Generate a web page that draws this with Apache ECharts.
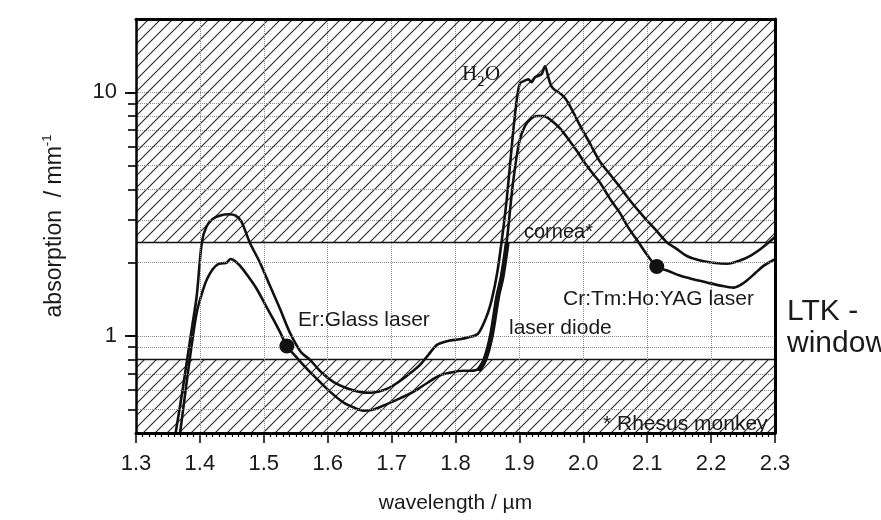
<!DOCTYPE html>
<html>
<head>
<meta charset="utf-8">
<script src="https://cdn.jsdelivr.net/npm/echarts@6/dist/echarts.min.js"></script>
<style>
html, body { margin: 0; padding: 0; background: #fff; }
#chart { width: 881px; height: 520px; }
</style>
</head>
<body>
<div id="chart"></div>
<script>
// absorption spectra (wavelength in um, absorption in 1/mm)
var waterWl = [1.362, 1.372, 1.380, 1.388, 1.395, 1.403, 1.410, 1.420, 1.432, 1.445, 1.456, 1.465, 1.478, 1.494, 1.510,
    1.525, 1.541, 1.558, 1.572, 1.590, 1.610, 1.630, 1.650, 1.668, 1.688, 1.708, 1.728, 1.744, 1.758, 1.771,
    1.788, 1.807, 1.822, 1.835, 1.849, 1.857, 1.865, 1.872, 1.880, 1.890, 1.897, 1.901, 1.906, 1.914, 1.919,
    1.924, 1.930, 1.935, 1.940, 1.945, 1.950, 1.956, 1.964, 1.971, 1.979, 1.995, 2.010, 2.026, 2.042, 2.057,
    2.075, 2.094, 2.112, 2.131, 2.146, 2.162, 2.180, 2.203, 2.225, 2.245, 2.262, 2.277, 2.290, 2.300];
var waterAbs = [0.40, 0.58, 0.80, 1.10, 1.46, 2.42, 2.80, 3.02, 3.12, 3.16, 3.12, 2.95, 2.42, 2.00, 1.60,
    1.30, 1.03, 0.86, 0.80, 0.71, 0.645, 0.61, 0.59, 0.585, 0.60, 0.64, 0.70, 0.76, 0.84, 0.92,
    0.955, 0.97, 0.99, 1.02, 1.21, 1.42, 1.80, 2.42, 3.60, 6.80, 9.80, 10.9, 11.1, 11.3, 11.0,
    11.5, 11.7, 11.9, 12.8, 11.6, 10.6, 10.2, 9.9, 9.5, 8.8, 7.3, 6.2, 5.2, 4.6, 4.1,
    3.55, 3.10, 2.75, 2.42, 2.28, 2.13, 2.05, 2.00, 1.98, 2.04, 2.14, 2.27, 2.42, 2.55];

var corneaWl = [1.369, 1.377, 1.384, 1.395, 1.405, 1.411, 1.420, 1.428, 1.436, 1.442, 1.448, 1.455, 1.463, 1.476, 1.489,
    1.502, 1.515, 1.526, 1.536, 1.549, 1.562, 1.583, 1.604, 1.624, 1.640, 1.656, 1.672, 1.687, 1.713, 1.734,
    1.755, 1.776, 1.795, 1.812, 1.825, 1.835, 1.845, 1.855, 1.865, 1.872, 1.880, 1.890, 1.900, 1.909, 1.918,
    1.927, 1.936, 1.943, 1.952, 1.964, 1.977, 1.990, 2.003, 2.016, 2.026, 2.042, 2.057, 2.070, 2.083, 2.100,
    2.115, 2.135, 2.151, 2.172, 2.193, 2.215, 2.235, 2.246, 2.256, 2.268, 2.282, 2.300];
var corneaAbs = [0.40, 0.58, 0.80, 1.25, 1.55, 1.71, 1.88, 1.97, 1.99, 2.00, 2.07, 2.03, 1.94, 1.75, 1.56,
    1.35, 1.17, 1.03, 0.91, 0.83, 0.76, 0.667, 0.59, 0.535, 0.51, 0.494, 0.50, 0.518, 0.555, 0.59,
    0.64, 0.69, 0.71, 0.72, 0.72, 0.73, 0.80, 1.00, 1.45, 1.75, 2.42, 4.25, 6.30, 7.30, 7.80,
    8.00, 8.00, 7.90, 7.60, 7.10, 6.40, 5.75, 5.10, 4.60, 4.27, 3.65, 3.21, 2.80, 2.50, 2.15,
    1.93, 1.84, 1.77, 1.71, 1.66, 1.61, 1.58, 1.62, 1.69, 1.80, 1.94, 2.07];

// bold "laser diode" stretch
var diodeWl = [1.836, 1.846, 1.856, 1.866, 1.873, 1.881];
var diodeAbs = [0.72, 0.80, 1.00, 1.45, 1.75, 2.42];

// laser lines marked with dots (Er:Glass, Cr:Tm:Ho:YAG)
var laserWl = [1.536, 2.115];
var laserAbs = [0.91, 1.93];

// LTK window limits
var windowLow = 0.8;
var windowHigh = 2.42;

var xMin = 1.3, xMax = 2.3;
var yMin = 0.4, yMax = 20;
var yGridValues = [0.5, 0.6, 0.7, 0.8, 0.9, 1, 2, 3, 4, 5, 6, 7, 8, 9, 10];
var yLabelValues = [1, 10];

var FONT = '"Liberation Sans", Arial, sans-serif';

function pairs(xs, ys) {
    return xs.map(function (x, i) { return [x, ys[i]]; });
}

// diagonal hatch tile
function hatchTile() {
    var s = 12;
    var c = document.createElement('canvas');
    c.width = s;
    c.height = s;
    var g = c.getContext('2d');
    g.strokeStyle = '#262626';
    g.lineWidth = 1.1;
    g.beginPath();
    g.moveTo(0, s); g.lineTo(s, 0);
    g.moveTo(-s / 2, s / 2); g.lineTo(s / 2, -s / 2);
    g.moveTo(s / 2, s * 1.5); g.lineTo(s * 1.5, s / 2);
    g.stroke();
    return c;
}

var chart = echarts.init(document.getElementById('chart'));

var gridLines = yGridValues.map(function (v) {
    return { yAxis: v, lineStyle: { type: 'dotted', color: '#8a8a8a', width: 1 } };
});
gridLines.push({ yAxis: windowLow, lineStyle: { type: 'solid', color: '#111', width: 1.3 } });
gridLines.push({ yAxis: windowHigh, lineStyle: { type: 'solid', color: '#111', width: 1.3 } });

var curveStyle = { color: '#111', width: 2.6 };

option = {
    animation: false,
    backgroundColor: '#fff',
    grid: { left: 136, right: 106, top: 19, bottom: 87, containLabel: false },
    xAxis: [{
        type: 'value',
        min: xMin,
        max: xMax,
        interval: 0.1,
        position: 'bottom',
        z: 10,
        axisLine: { lineStyle: { color: '#000', width: 3 } },
        axisTick: { length: 10, lineStyle: { color: '#000', width: 1.5 } },
        minorTick: { show: true, splitNumber: 10, length: 4, lineStyle: { color: '#000', width: 1.2 } },
        splitLine: { show: true, lineStyle: { type: 'dotted', color: '#8a8a8a', width: 1 } },
        axisLabel: {
            fontSize: 22, fontFamily: FONT, color: '#1a1a1a', margin: 20,
            formatter: function (v) { return v.toFixed(1); }
        },
        name: 'wavelength / µm',
        nameLocation: 'middle',
        nameGap: 60,
        nameTextStyle: { fontSize: 21, fontFamily: FONT, color: '#1a1a1a' }
    }, {
        type: 'value',
        min: xMin,
        max: xMax,
        position: 'top',
        z: 10,
        axisLine: { lineStyle: { color: '#000', width: 3 } },
        axisTick: { show: false },
        axisLabel: { show: false },
        splitLine: { show: false }
    }],
    yAxis: [{
        type: 'log',
        logBase: 10,
        min: yMin,
        max: yMax,
        position: 'left',
        z: 10,
        axisLine: { show: true, lineStyle: { color: '#000', width: 2.5 } },
        axisTick: { show: true, customValues: yGridValues, length: 8, lineStyle: { color: '#000', width: 1.6 } },
        axisLabel: { show: false },
        splitLine: { show: false },
        name: 'absorption  / mm{sup|-1}',
        nameLocation: 'middle',
        nameGap: 67,
        nameTextStyle: {
            fontSize: 23, fontFamily: FONT, color: '#1a1a1a',
            rich: { sup: { fontSize: 13, fontFamily: FONT, color: '#1a1a1a', verticalAlign: 'top', lineHeight: 28 } }
        }
    }, {
        type: 'log',
        logBase: 10,
        min: yMin,
        max: yMax,
        position: 'left',
        z: 10,
        axisLine: { show: false },
        axisTick: { show: true, customValues: yLabelValues, length: 11, lineStyle: { color: '#000', width: 1.8 } },
        axisLabel: {
            customValues: yLabelValues,
            fontSize: 22, fontFamily: FONT, color: '#1a1a1a', margin: 19,
            formatter: function (v) { return (v === 1 || v === 10) ? String(v) : ''; }
        },
        splitLine: { show: false }
    }, {
        type: 'log',
        logBase: 10,
        min: yMin,
        max: yMax,
        position: 'right',
        z: 10,
        axisLine: { show: true, lineStyle: { color: '#000', width: 3 } },
        axisTick: { show: false },
        axisLabel: { show: false },
        splitLine: { show: false }
    }],
    series: [{
        name: 'background',
        type: 'line',
        data: [],
        silent: true,
        markArea: {
            silent: true,
            itemStyle: { color: { image: hatchTile(), repeat: 'repeat' }, opacity: 1 },
            data: [
                [{ yAxis: windowHigh }, { yAxis: yMax }],
                [{ yAxis: yMin }, { yAxis: windowLow }]
            ]
        },
        markLine: {
            silent: true,
            symbol: ['none', 'none'],
            label: { show: false },
            data: gridLines
        }
    }, {
        name: 'H2O',
        type: 'line',
        data: pairs(waterWl, waterAbs),
        showSymbol: false,
        smooth: 0.3,
        lineStyle: curveStyle,
        z: 4
    }, {
        name: 'cornea',
        type: 'line',
        data: pairs(corneaWl, corneaAbs),
        showSymbol: false,
        smooth: 0.3,
        lineStyle: curveStyle,
        z: 4
    }, {
        name: 'laser diode',
        type: 'line',
        data: pairs(diodeWl, diodeAbs),
        showSymbol: false,
        smooth: 0.3,
        lineStyle: { color: '#111', width: 5 },
        z: 5
    }, {
        name: 'lasers',
        type: 'scatter',
        data: pairs(laserWl, laserAbs),
        symbolSize: 15,
        itemStyle: { color: '#111', opacity: 1 },
        z: 6
    }],
    graphic: [
        { type: 'text', x: 298, y: 320, z: 20, style: { text: 'Er:Glass laser', font: '21px ' + FONT, fill: '#1a1a1a', verticalAlign: 'middle' } },
        { type: 'text', x: 509, y: 328, z: 20, style: { text: 'laser diode', font: '21px ' + FONT, fill: '#1a1a1a', verticalAlign: 'middle' } },
        { type: 'text', x: 563, y: 299, z: 20, style: { text: 'Cr:Tm:Ho:YAG laser', font: '21px ' + FONT, fill: '#1a1a1a', verticalAlign: 'middle' } },
        { type: 'text', x: 524, y: 232, z: 20, style: { text: 'cornea*', font: '20px ' + FONT, fill: '#1a1a1a', verticalAlign: 'middle' } },
        { type: 'text', x: 603, y: 424, z: 20, style: { text: '* Rhesus monkey', font: '21px ' + FONT, fill: '#1a1a1a', verticalAlign: 'middle' } },
        { type: 'text', x: 462, y: 74, z: 20, style: { text: 'H', font: '21px "Liberation Serif", serif', fill: '#1a1a1a', verticalAlign: 'middle' } },
        { type: 'text', x: 477, y: 82, z: 20, style: { text: '2', font: '15px "Liberation Serif", serif', fill: '#1a1a1a', verticalAlign: 'middle' } },
        { type: 'text', x: 485, y: 74, z: 20, style: { text: 'O', font: '21px "Liberation Serif", serif', fill: '#1a1a1a', verticalAlign: 'middle' } },
        { type: 'text', x: 787, y: 312, z: 20, style: { text: 'LTK -', font: '30px ' + FONT, fill: '#1a1a1a', verticalAlign: 'middle' } },
        { type: 'text', x: 787, y: 344, z: 20, style: { text: 'window', font: '30px ' + FONT, fill: '#1a1a1a', verticalAlign: 'middle' } }
    ]
};

chart.setOption(option);
</script>
</body>
</html>
